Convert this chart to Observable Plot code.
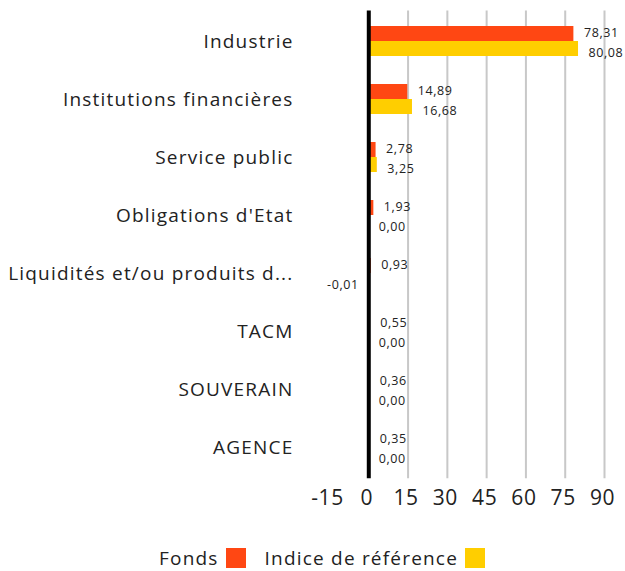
<!DOCTYPE html>
<html><head><meta charset="utf-8">
<script src="https://cdn.jsdelivr.net/npm/d3@7"></script>
<script src="https://cdn.jsdelivr.net/npm/@observablehq/plot@0.6"></script>
<style>
body{margin:0;background:#fff;font-family:"Open Sans", sans-serif;}
#chart{position:relative;width:625px;height:571px;overflow:hidden;}
#chart svg{position:absolute;left:0;top:0;overflow:visible;}
#chart svg g[aria-label="y-axis tick label"] text{letter-spacing:1.2px;}
.legend{position:absolute;left:159px;top:547px;display:flex;align-items:center;font-size:19px;color:#222;line-height:22px;letter-spacing:1.2px;}
.sw{display:inline-block;width:20px;height:20px;margin-left:7px;margin-right:19px;}
</style></head><body><div id="chart"></div>
<script>
const categories = ["Industrie","Institutions financières","Service public","Obligations d'Etat","Liquidités et/ou produits d...","TACM","SOUVERAIN","AGENCE"];
const fondsValues = [78.31,14.89,2.78,1.93,0.93,0.55,0.36,0.35];
const indiceValues = [80.08,16.68,3.25,0.00,-0.01,0.00,0.00,0.00];
const xTicks = [-15,0,15,30,45,60,75,90];
const gridTicks = [15,30,45,60,75,90];
const seriesNames = ["Fonds","Indice de référence"];
const seriesColors = ["#FF4713","#FFCE00"];

const fmt = v => d3.format(".2f")(v).replace(".", ",").replace("\u2212", "-");
const fondsData = categories.map((c,i)=>({cat:c, value:fondsValues[i]}));
const indiceData = categories.map((c,i)=>({cat:c, value:indiceValues[i]}));

const W = 625, H = 520;
const labelOpts = (data, dy) => [
  Plot.text(data.filter(d=>d.value>=0), {x:"value", y:"cat", text:d=>fmt(d.value), dx:10, dy, textAnchor:"start", fontSize:12.5, fill:"#222"}),
  Plot.text(data.filter(d=>d.value<0), {x:"value", y:"cat", text:d=>fmt(d.value), dx:-10, dy, textAnchor:"end", fontSize:12.5, fill:"#222"})
];

const chart = Plot.plot({
  width: W, height: H,
  marginLeft: 329, marginRight: 10, marginTop: 10.5, marginBottom: H - 478.2,
  style: {fontFamily: "'Open Sans', sans-serif", color: "#222", background: "#fff", letterSpacing: "0.6px"},
  x: {domain: [-15, 94.2], label: null},
  y: {domain: categories, paddingInner: 0.4854, paddingOuter: 0.2427, label: null},
  marks: [
    Plot.ruleX(gridTicks, {stroke: "#c8c8c8", strokeWidth: 2}),
    Plot.barX(fondsData, {x: "value", y: "cat", fill: seriesColors[0], insetBottom: 15}),
    Plot.barX(indiceData, {x: "value", y: "cat", fill: seriesColors[1], insetTop: 15}),
    Plot.ruleX([0], {stroke: "#000", strokeWidth: 4}),
    ...labelOpts(fondsData, -9),
    ...labelOpts(indiceData, 11),
    Plot.axisX(xTicks, {tickSize: 0, tickPadding: 11, fontSize: 21, fill: "#222", tickFormat: d => String(d), label: null, dx: -2}),
    Plot.axisY({tickSize: 0, tickPadding: 36, fontSize: 19, fill: "#222", label: null})
  ]
});
const host = document.getElementById("chart");
host.appendChild(chart);
const lg = document.createElement("div");
lg.className = "legend";
seriesNames.forEach((n,i)=>{
  const t = document.createElement("span"); t.textContent = n; lg.appendChild(t);
  const s = document.createElement("span"); s.className = "sw"; s.style.background = seriesColors[i]; lg.appendChild(s);
});
host.appendChild(lg);
</script></body></html>
